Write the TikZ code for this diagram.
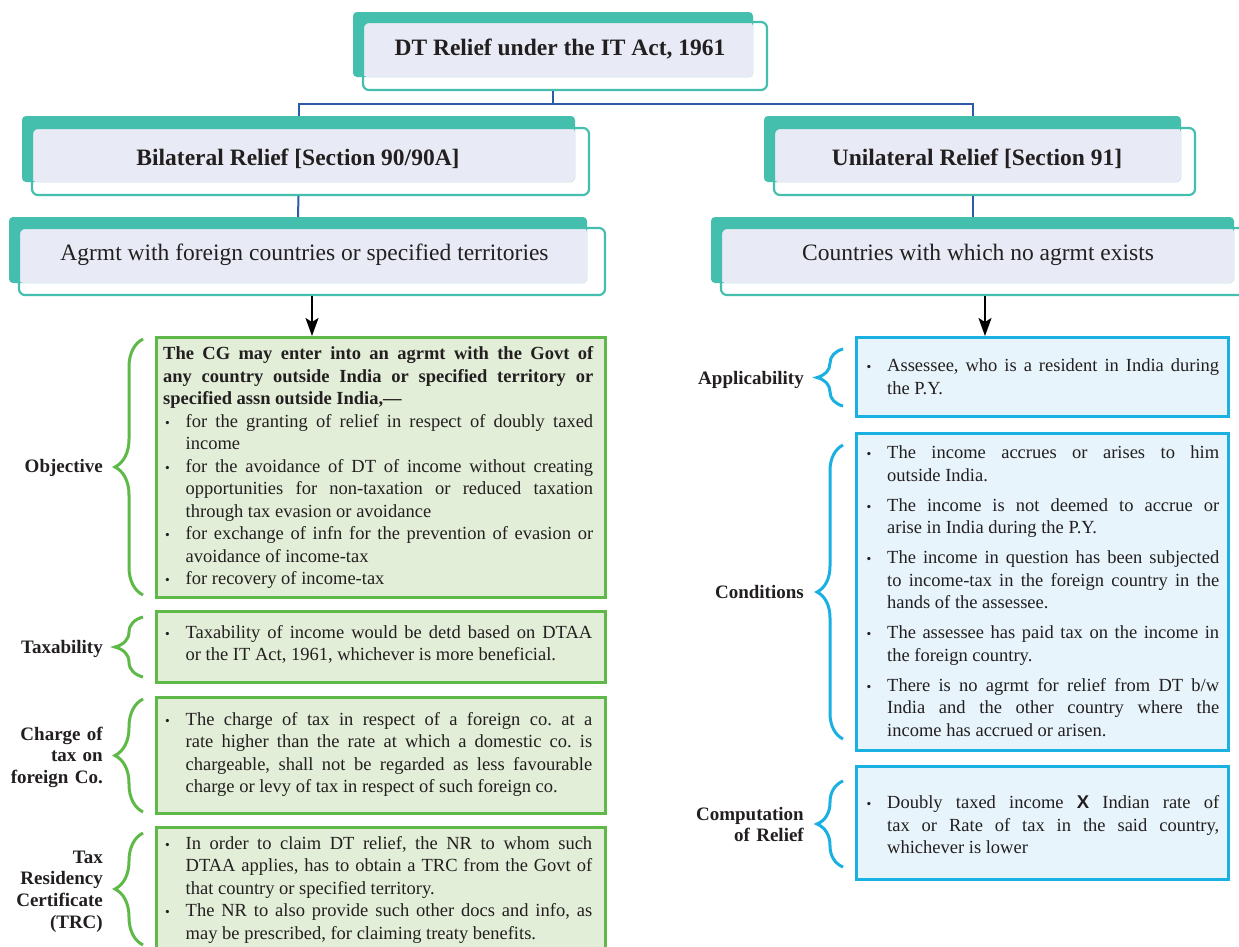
\documentclass[tikz,border=0pt]{standalone}
\usepackage{fontspec}
\setmainfont{Liberation Serif}
\newfontfamily\xsans{Liberation Sans}
\usetikzlibrary{decorations.pathreplacing,arrows.meta}

\definecolor{tealc}{RGB}{69,191,173}
\definecolor{lavc}{RGB}{232,235,245}
\definecolor{linkc}{RGB}{45,91,169}
\definecolor{grnc}{RGB}{94,185,72}
\definecolor{grnfill}{RGB}{226,238,215}
\definecolor{cyc}{RGB}{27,176,226}
\definecolor{cyfill}{RGB}{231,244,251}
\definecolor{ink}{RGB}{35,31,32}

\newcommand\bodyfont{\fontsize{18.5}{22.5}\selectfont}
\newcommand\labfont{\fontsize{19}{21.7}\selectfont\bfseries}
\newcommand\headfont{\fontsize{23.5}{28}\selectfont}
\newcommand\dotmark{{\fontsize{13.5}{13.5}\selectfont •}}
\newcommand\setpar{\parindent=0pt\frenchspacing\tolerance=10000\hyphenpenalty=10000\exhyphenpenalty=10000\relax}
% one bullet paragraph with a hanging indent
\newcommand\bitem[1]{\hangindent=22.5pt\hangafter=1\noindent\makebox[22.5pt][l]{\kern2pt\dotmark}#1\par}

\begin{document}
\begin{tikzpicture}[x=1pt,y=-1pt,
  tealback/.style={fill=tealc,rounded corners=4pt,inner sep=0pt,outer sep=0pt},
  headline/.style={draw=tealc,line width=2.2pt,rounded corners=6pt,inner sep=0pt},
  headtxt/.style={text=ink,inner sep=0pt,font=\headfont},
  gbox/.style={draw=grnc,fill=grnfill,line width=3pt,inner sep=0pt,minimum width=449.5pt},
  cbox/.style={draw=cyc,fill=cyfill,line width=3pt,inner sep=0pt,minimum width=372.5pt},
  bodytxt/.style={text=ink,inner sep=0pt,align=justify,font=\bodyfont,anchor=base west},
  labtxt/.style={text=ink,inner sep=0pt,align=right,font=\labfont,text width=120pt,anchor=base east},
  gbrace/.style={draw=grnc,line width=3pt,decorate,decoration={brace,amplitude=28pt}},
  cbrace/.style={draw=cyc,line width=3pt,decorate,decoration={brace,amplitude=26pt}},
  link/.style={draw=linkc,line width=2pt},
  arrowline/.style={draw=black,line width=2pt,-{Stealth[length=18pt,width=13pt,inset=4pt]}}
]
\clip (0,0) rectangle (1239,946);
\fill[white] (0,0) rectangle (1239,946);

% ---- heading boxes: teal block behind, lavender panel, teal outline ----
\node[tealback,minimum width=400pt,minimum height=65pt] (topback) at (553,44.5) {};
\fill[lavc,rounded corners=4pt] (363,22) rectangle (753,77);
\node[headline,minimum width=404pt,minimum height=68pt] (top) at (565,56) {};
\node[headtxt,font=\headfont\bfseries,anchor=base] (toptxt) at (560,55) {DT Relief under the IT Act, 1961};

\node[tealback,minimum width=553pt,minimum height=66pt] (bilback) at (298.5,149) {};
\fill[lavc,rounded corners=4pt] (32,128) rectangle (575,182);
\node[headline,minimum width=557pt,minimum height=67pt] (bil) at (310.5,161.5) {};
\node[headtxt,font=\headfont\bfseries,anchor=base] (biltxt) at (298,165) {Bilateral Relief [Section 90/90A]};

\node[tealback,minimum width=578pt,minimum height=66pt] (agrback) at (298,250) {};
\fill[lavc,rounded corners=4pt] (19,228) rectangle (587,283);
\node[headline,minimum width=586pt,minimum height=67pt] (agr) at (312,261.5) {};
\node[headtxt,anchor=base] (agrtxt) at (304.5,260) {Agrmt with foreign countries or specified territories};

\node[tealback,minimum width=417pt,minimum height=66pt] (uniback) at (972.5,149) {};
\fill[lavc,rounded corners=4pt] (774,128) rectangle (1181,182);
\node[headline,minimum width=421pt,minimum height=67pt] (uni) at (984.5,161.5) {};
\node[headtxt,font=\headfont\bfseries,anchor=base] (unitxt) at (977,165) {Unilateral Relief [Section 91]};

\node[tealback,minimum width=523pt,minimum height=66pt] (ctyback) at (972.5,250) {};
\fill[lavc,rounded corners=4pt] (721,228) rectangle (1234,283);
\node[headline,minimum width=528pt,minimum height=67pt] (cty) at (985,261.5) {};
\node[headtxt,anchor=base] (ctytxt) at (978,260) {Countries with which no agrmt exists};

% ---- tree connectors ----
\coordinate (split) at (553,104);
\draw[link] (topback.south |- top.south) -- (split);
\draw[link] (bilback.north) |- (split);
\draw[link] (uniback.north) |- (split);
\draw[link] (bilback.south |- bil.south) -- (agrback.north);
\draw[link] (uniback.south |- uni.south) -- (ctyback.north);

% ---- left column: bilateral relief ----
\node[gbox,minimum height=259.5pt] (objbox) at (380.75,467.25) {};
\node[gbox,minimum height=71pt] (taxbox) at (380.75,647) {};
\node[gbox,minimum height=116.5pt] (chgbox) at (380.75,755.25) {};
\node[gbox,minimum height=137.5pt] (trcbox) at (380.75,896.25) {};

\draw[arrowline] (agr.south) -- (agr.south |- objbox.north);

\node[bodytxt,text width=430pt] (objtxt) at (163,359.5) {\setpar
\textbf{The CG may enter into an agrmt with the Govt of\linebreak any country outside India or specified territory or\linebreak specified assn outside India,—}\par
\bitem{for the granting of relief in respect of doubly taxed\linebreak income}
\bitem{for the avoidance of DT of income without creating\linebreak opportunities for non-taxation or reduced taxation\linebreak through tax evasion or avoidance}
\bitem{for exchange of infn for the prevention of evasion or\linebreak avoidance of income-tax}
\bitem{for recovery of income-tax}};

\node[bodytxt,text width=429pt] (taxtxt) at (163,638) {\setpar
\bitem{Taxability of income would be detd based on DTAA\linebreak or the IT Act, 1961, whichever is more beneficial.}};

\node[bodytxt,text width=429pt] (chgtxt) at (163,725) {\setpar
\bitem{The charge of tax in respect of a foreign co. at a\linebreak rate higher than the rate at which a domestic co. is\linebreak chargeable, shall not be regarded as less favourable\linebreak charge or levy of tax in respect of such foreign co.}};

\node[bodytxt,text width=429pt] (trctxt) at (163,849) {\setpar
\bitem{In order to claim DT relief, the NR to whom such\linebreak DTAA applies, has to obtain a TRC from the Govt of\linebreak that country or specified territory.}
\bitem{The NR to also provide such other docs and info, as\linebreak may be prescribed, for claiming treaty benefits.}};

\draw[gbrace] (143,595) -- (143,339);
\draw[gbrace] (143,677) -- (143,617);
\draw[gbrace] (143,812) -- (143,699);
\draw[gbrace] (143,945) -- (143,833);

\node[labtxt] (objlab) at (103,472) {Objective};
\node[labtxt] (taxlab) at (103,653) {Taxability};
\node[labtxt] (chglab) at (103,740) {Charge of\\tax on\\foreign Co.};
\node[labtxt] (trclab) at (103,863) {Tax\\Residency\\Certificate\\(TRC)};

% ---- right column: unilateral relief ----
\node[cbox,minimum height=79pt] (appbox) at (1042.25,377) {};
\node[cbox,minimum height=316.5pt] (conbox) at (1042.25,591.75) {};
\node[cbox,minimum height=113pt] (cmpbox) at (1042.25,823) {};

\draw[arrowline] (cty.south) -- (cty.south |- appbox.north);

\node[bodytxt,text width=354.5pt] (apptxt) at (864.5,371.5) {\setpar
\bitem{Assessee, who is a resident in India during\linebreak the P.Y.}};

\node[bodytxt,text width=354.5pt] (contxt) at (864.5,458.5) {\setpar
\bitem{The income accrues or arises to him\linebreak outside India.}
\vspace{7.5pt}
\bitem{The income is not deemed to accrue or\linebreak arise in India during the P.Y.}
\vspace{7.5pt}
\bitem{The income in question has been subjected\linebreak to income-tax in the foreign country in the\linebreak hands of the assessee.}
\vspace{7.5pt}
\bitem{The assessee has paid tax on the income in\linebreak the foreign country.}
\vspace{7.5pt}
\bitem{There is no agrmt for relief from DT b/w\linebreak India and the other country where the\linebreak income has accrued or arisen.}};

\node[bodytxt,text width=354.5pt] (cmptxt) at (864.5,808.5) {\setpar
\bitem{Doubly taxed income {\xsans\bfseries X} Indian rate of\linebreak tax or Rate of tax in the said country,\linebreak whichever is lower}};

\draw[cbrace] (843,406) -- (843,349);
\draw[cbrace] (843,739) -- (843,445);
\draw[cbrace] (843,867) -- (843,781);

\node[labtxt] (applab) at (804,384) {Applicability};
\node[labtxt] (conlab) at (804,598) {Conditions};
\node[labtxt] (cmplab) at (804,820) {Computation\\of Relief};
\end{tikzpicture}
\end{document}
